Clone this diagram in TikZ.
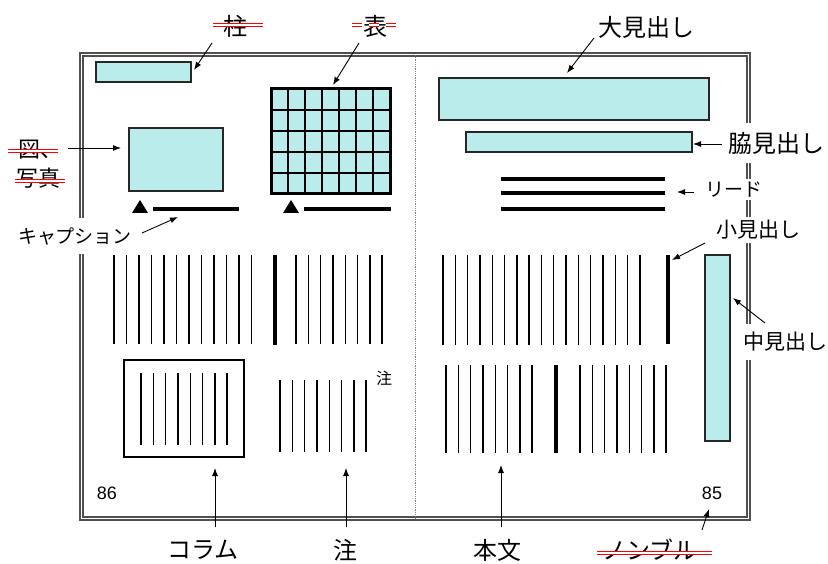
\documentclass[tikz,border=0pt]{standalone}
\usepackage{fontspec}
\setmainfont{Liberation Sans}
\newfontfamily\jp{Noto Sans CJK JP}
\usetikzlibrary{arrows.meta}
\definecolor{boxcyan}{RGB}{187,236,236}
\definecolor{framegray}{RGB}{80,80,80}
\tikzset{
  cbox/.style={draw=black!85, line width=1.2pt, fill=boxcyan},
  arr/.style={-{Latex[length=8pt,width=6pt]}, line width=0.9pt},
  big/.style={font=\jp\fontsize{24}{24}\selectfont, inner sep=1pt},
  mid/.style={font=\jp\fontsize{21}{21}\selectfont, inner sep=1pt},
  sml/.style={font=\jp\fontsize{19}{19}\selectfont, inner sep=1pt},
  whitebg/.style={fill=white, inner xsep=2pt},
  strike/.style={draw=red, double=white, double distance=1.5pt, line width=1pt},
  txtline/.style={line width=1.4pt},
  boldline/.style={line width=4pt},
  num/.style={font=\fontsize{18}{18}\selectfont, inner sep=1pt}
}
\begin{document}
\begin{tikzpicture}[x=1pt,y=-1pt]
\useasboundingbox (0,0) rectangle (828,564);
% page frame
\draw[draw=framegray, double=white, double distance=1.8pt, line width=1.2pt] (81.5,54.5) rectangle (748.5,518.5);
\draw[gray, densely dotted, line width=0.8pt] (415,55) -- (415,518);

% ---------- left page ----------
\draw[cbox] (96,62) rectangle (191,82);
\coordinate (hashiraTip) at (194,70);
% table
\fill[boxcyan] (271,89) rectangle (390,194);
\foreach \i in {1,...,6} \draw[line width=1.3pt] ({271+\i*17},89) -- ({271+\i*17},194);
\foreach \j in {1,...,4} \draw[line width=1.3pt] (271,{89+\j*21}) -- (390,{89+\j*21});
\draw[line width=3pt] (271,89) rectangle (390,194);
\coordinate (hyouTip) at (333,85);
% figure
\draw[cbox, line width=2pt] (129,128) rectangle (223,191);
\coordinate (zuTip) at (121,148);
% captions
\fill (132,213) -- (148,213) -- (140,200) -- cycle;
\draw[line width=3.5pt] (153,209) -- (239,209);
\fill (283,213) -- (299,213) -- (291,200) -- cycle;
\draw[line width=3.5pt] (304,209) -- (391,209);
\coordinate (capTip) at (178,217);
% body text left upper
\foreach \i in {0,...,11} \draw[txtline] ({114+\i*12.5},255) -- ({114+\i*12.5},344);
\draw[boldline] (275,255) -- (275,345);
\foreach \i in {0,...,7} \draw[txtline] ({296+\i*12.3},255) -- ({296+\i*12.3},344);
% column box
\draw[line width=1.8pt] (124,360) rectangle (244,457);
\foreach \i in {0,...,7} \draw[txtline] ({141+\i*12.3},373) -- ({141+\i*12.3},445);
\coordinate (colTip) at (215,468);
% notes
\foreach \i in {0,...,7} \draw[txtline] ({280+\i*12.3},380) -- ({280+\i*12.3},452);
\node[font=\jp\fontsize{16}{16}\selectfont, inner sep=0pt] (chuS) at (384,378) {注};
\coordinate (chuTip) at (346,468);
\node[num] (p86) at (107,493) {86};

% ---------- right page ----------
\draw[cbox] (439,78) rectangle (709,120);
\coordinate (oTip) at (567,73);
\draw[cbox] (466,132) rectangle (692,152);
\coordinate (wakiTip) at (693,144);
\foreach \y in {179,193,209} \draw[line width=3.8pt] (501,\y) -- (665,\y);
\coordinate (leadTip) at (677,192);
\foreach \i in {0,...,16} \draw[txtline] ({443+\i*12.3},255) -- ({443+\i*12.3},345);
\draw[boldline] (668,255) -- (668,344);
\coordinate (koTip) at (672,260);
\draw[cbox] (705,255) rectangle (730,441);
\coordinate (nakaTip) at (733,298);
\foreach \i in {0,...,7} \draw[txtline] ({446+\i*12.3},365) -- ({446+\i*12.3},453);
\draw[boldline] (556,365) -- (556,453);
\foreach \i in {0,...,7} \draw[txtline] ({580+\i*12.3},365) -- ({580+\i*12.3},453);
\coordinate (honTip) at (501,465);
\node[num] (p85) at (712,493) {85};
\coordinate (nomTip) at (709,509);

% ---------- labels ----------
\node[big] (hashira) at (235,26) {柱};
\node[big] (hyou) at (375,26) {表};
\node[big] (oomi) at (646,27) {大見出し};
\node[big, whitebg, minimum height=40pt] (waki) at (776,143) {脇見出し};
\node[sml, whitebg, minimum height=21pt] (lead) at (734,190) {リード};
\node[mid, whitebg, minimum height=26pt] (komi) at (758,230) {小見出し};
\node[mid, whitebg, minimum height=36pt] (naka) at (785,342) {中見出し};
\node[font=\jp\fontsize{19}{19}\selectfont, whitebg, minimum height=36pt] (cap) at (75,236) {キャプション};
\node[font=\jp\fontsize{22}{22}\selectfont, inner sep=0pt, anchor=west] (zu) at (18,150) {図、};
\node[font=\jp\fontsize{22}{22}\selectfont, inner sep=0pt, anchor=west] (shashin) at (16,178) {写真};
\node[big] (column) at (203,550) {コラム};
\node[big] (chu) at (345,550) {注};
\node[big] (honbun) at (497,550) {本文};
\node[big] (nombre) at (650,550) {ノンブル};

% red strike-throughs
\draw[strike] (213,25) -- (263,25);
\draw[strike, dash pattern=on 10pt off 7pt] (352,25) -- (402,25);
\draw[strike] (8,151) -- (58,151);
\draw[strike] (15,181) -- (65,181);
\draw[strike] (597,553) -- (712,553);

% ---------- arrows ----------
\coordinate (hashiraS) at (212,43);
\coordinate (hyouS) at (359,43);
\coordinate (oomiS) at (594,38);
\coordinate (wakiS) at (722,144);
\coordinate (leadS) at (694,192);
\coordinate (komiS) at (705,243);
\coordinate (nakaS) at (765,323);
\coordinate (zuS) at (68,148);
\coordinate (capS) at (142,233);
\coordinate (colS) at (215,527);
\coordinate (chuS2) at (346,527);
\coordinate (honS) at (501,527);
\coordinate (nomS) at (702,530);
\draw[arr] (hashiraS) -- (hashiraTip);
\draw[arr] (hyouS) -- (hyouTip);
\draw[arr] (oomiS) -- (oTip);
\draw[arr] (wakiS) -- (wakiTip);
\draw[arr] (leadS) -- (leadTip);
\draw[arr] (komiS) -- (koTip);
\draw[arr] (nakaS) -- (nakaTip);
\draw[arr] (zuS) -- (zuTip);
\draw[arr] (capS) -- (capTip);
\draw[arr] (colS) -- (colTip);
\draw[arr] (chuS2) -- (chuTip);
\draw[arr] (honS) -- (honTip);
\draw[arr] (nomS) -- (nomTip);
\end{tikzpicture}
\end{document}
